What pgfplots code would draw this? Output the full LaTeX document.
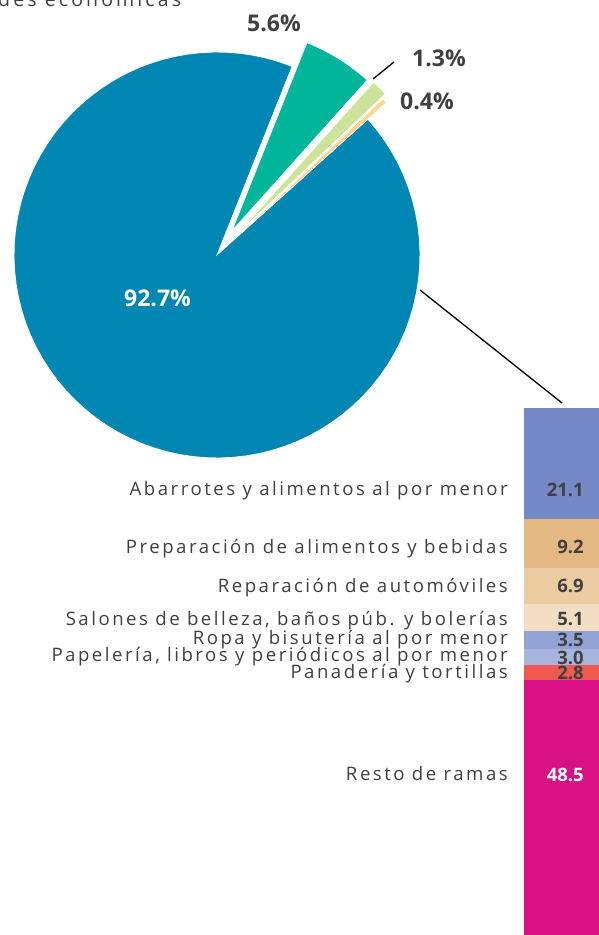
\documentclass[border=0pt]{standalone}
\usepackage{fontspec}
\setmainfont{Open Sans}
\newfontfamily\spaced[LetterSpace=13.5]{Open Sans}
\newfontfamily\spacedT[LetterSpace=16]{Open Sans}
\usepackage{pgfplots}
\pgfplotsset{compat=1.18}

\definecolor{cMain}{RGB}{0,134,178}
\definecolor{cGreen}{RGB}{0,181,154}
\definecolor{cLight}{RGB}{205,226,154}
\definecolor{cYellow}{RGB}{252,214,138}
\definecolor{cAbarr}{RGB}{117,137,198}
\definecolor{cPrep}{RGB}{227,184,131}
\definecolor{cRepar}{RGB}{237,203,160}
\definecolor{cSalon}{RGB}{243,222,196}
\definecolor{cRopa}{RGB}{147,163,213}
\definecolor{cPapel}{RGB}{167,180,222}
\definecolor{cPan}{RGB}{238,90,80}
\definecolor{cResto}{RGB}{217,15,132}
\definecolor{txt}{RGB}{64,64,64}

\tikzset{
  pct/.style={anchor=base west, inner sep=0pt, text=txt, font=\bfseries\fontsize{23}{23}\selectfont},
  num/.style={anchor=base east, inner sep=0pt, text=txt, font=\bfseries\fontsize{18.5}{18.5}\selectfont},
  cat/.style={anchor=base east, inner sep=0pt, text=txt, font=\spaced\fontsize{18.6}{18.6}\selectfont},
}

% pie values (%)
\def\pMain{92.7}
\def\pGreen{5.6}
\def\pLight{1.3}
\def\pYellow{0.4}

% slice: colour, start angle, end angle, explode distance, border width
\newcommand{\pieslice}[5]{%
  \pgfmathsetmacro{\pmid}{(#2+#3)/2}%
  \pgfmathsetmacro{\cx}{217+#4*cos(\pmid)}%
  \pgfmathsetmacro{\cy}{680+#4*sin(\pmid)}%
  \edef\temp{\noexpand\addplot[fill=#1, draw=white, line width=#5,
    domain=#2:#3, samples=90, variable=\noexpand\t]
    ({\cx+203*cos(\noexpand\t)}, {\cy+203*sin(\noexpand\t)})
    -- (axis cs:\cx,\cy) -- cycle;}%
  \temp
}

\begin{document}
\begin{tikzpicture}
\useasboundingbox (0,0) rectangle (599pt,935pt);

\pgfmathsetmacro{\aA}{42}
\pgfmathsetmacro{\aB}{\aA+\pYellow*3.6}
\pgfmathsetmacro{\aC}{\aB+\pLight*3.6}
\pgfmathsetmacro{\aD}{\aC+\pGreen*3.6}
\pgfmathsetmacro{\aE}{\aD+\pMain*3.6}

% stacked bar (shares of the 92.7% slice)
\begin{axis}[at={(524pt,0pt)}, anchor=south west, scale only axis,
  width=82pt, height=527pt, xmin=-0.5, xmax=0.5, ymin=0, ymax=100.1,
  ybar stacked, bar width=82pt, hide axis, clip=false]
  \addplot[fill=cResto, draw=none] coordinates {(0,48.5)};
  \addplot[fill=cPan, draw=none] coordinates {(0,2.8)};
  \addplot[fill=cPapel, draw=none] coordinates {(0,3.0)};
  \addplot[fill=cRopa, draw=none] coordinates {(0,3.5)};
  \addplot[fill=cSalon, draw=none] coordinates {(0,5.1)};
  \addplot[fill=cRepar, draw=none] coordinates {(0,6.9)};
  \addplot[fill=cPrep, draw=none] coordinates {(0,9.2)};
  \addplot[fill=cAbarr, draw=none] coordinates {(0,21.1)};
\end{axis}

% pie and all texts, in pixel units
\begin{axis}[at={(0pt,0pt)}, anchor=south west, scale only axis,
  width=599pt, height=935pt, xmin=0, xmax=599, ymin=0, ymax=935,
  hide axis, clip=false]
  \pieslice{cMain}{\aD}{\aE}{0}{0.8pt}
  \pieslice{cGreen}{\aC}{\aD}{28}{0.8pt}
  \pieslice{cLight}{\aB}{\aC}{30}{0.6pt}
  \pieslice{cYellow}{\aA}{\aB}{25}{0pt}

  \node[pct, text=white] at (axis cs:124,628) {92.7\%};
  \node[pct] at (axis cs:247,903) {5.6\%};
  \node[pct] at (axis cs:412,868) {1.3\%};
  \node[pct] at (axis cs:400,825) {0.4\%};
  \draw[black, line width=1.3pt] (axis cs:373,856) -- (axis cs:394,873);
  \draw[black, line width=1.3pt] (axis cs:420,645) -- (axis cs:562,532);
  \node[anchor=base west, inner sep=0pt, text=txt, font=\spacedT\fontsize{19.5}{19.5}\selectfont] at (axis cs:-2,928) {des económicas};

  \node[num] at (axis cs:584,438) {21.1};
  \node[num] at (axis cs:584,381) {9.2};
  \node[num] at (axis cs:584,342) {6.9};
  \node[num] at (axis cs:584,309) {5.1};
  \node[num] at (axis cs:584,288) {3.5};
  \node[num] at (axis cs:584,270) {3.0};
  \node[num] at (axis cs:584,255) {2.8};
  \node[num, text=white] at (axis cs:584,153) {48.5};

  \node[cat] at (axis cs:508,439) {Abarrotes y alimentos al por menor};
  \node[cat] at (axis cs:508,381) {Preparación de alimentos y bebidas};
  \node[cat] at (axis cs:508,342) {Reparación de automóviles};
  \node[cat] at (axis cs:508,309) {Salones de belleza, baños púb. y bolerías};
  \node[cat] at (axis cs:508,290) {Ropa y bisutería al por menor};
  \node[cat] at (axis cs:508,273) {Papelería, libros y periódicos al por menor};
  \node[cat] at (axis cs:508,256) {Panadería y tortillas};
  \node[cat] at (axis cs:508,154) {Resto de ramas};
\end{axis}
\end{tikzpicture}
\end{document}
